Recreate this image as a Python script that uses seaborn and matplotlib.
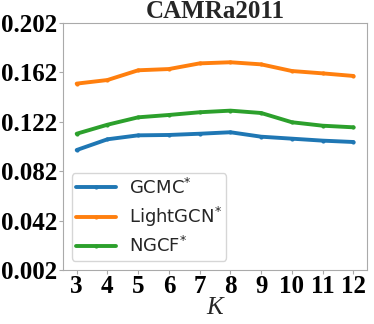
import numpy as np
import pandas as pd
import matplotlib
matplotlib.use("Agg")
import matplotlib.pyplot as plt
import seaborn as sns

k_values = [3, 4, 5, 6, 7, 8, 9, 10, 11, 12]
gcmc = [0.0991, 0.1078, 0.1110, 0.1113, 0.1123, 0.1135, 0.1099, 0.1083, 0.1067, 0.1056]
lightgcn = [0.1529, 0.1558, 0.1637, 0.1647, 0.1693, 0.1702, 0.1685, 0.1631, 0.1612, 0.1591]
ngcf = [0.1123, 0.1196, 0.1256, 0.1275, 0.1297, 0.1310, 0.1291, 0.1216, 0.1188, 0.1175]
y_ticks = [0.002, 0.042, 0.082, 0.122, 0.162, 0.202]

df = pd.DataFrame({
    "K": k_values * 3,
    "value": gcmc + lightgcn + ngcf,
    "model": ["GCMC$^{*}$"] * 10 + ["LightGCN$^{*}$"] * 10 + ["NGCF$^{*}$"] * 10,
})

sns.set_style("ticks")
fig, ax = plt.subplots(figsize=(3.74, 3.24), dpi=100)

sns.lineplot(data=df, x="K", y="value", hue="model", marker=".", markersize=6,
             markeredgewidth=0, linewidth=2.8, palette=["#1f77b4", "#ff7f0e", "#2ca02c"], ax=ax)

ax.set_ylim(0.002, 0.202)
ax.set_yticks(y_ticks)
ax.set_yticklabels([f"{t:.3f}" for t in y_ticks], fontfamily="Liberation Serif",
                   fontweight="bold", fontsize=18)
ax.set_xticks(k_values)
ax.set_xticklabels([str(k) for k in k_values], fontfamily="Liberation Serif",
                   fontweight="bold", fontsize=18)
ax.set_xlabel("K", fontfamily="Liberation Serif", fontstyle="italic", fontsize=18, labelpad=-1)
ax.set_ylabel("")
ax.set_title("CAMRa2011", fontfamily="Liberation Serif", fontweight="bold", fontsize=18, pad=2)

for s in ax.spines.values():
    s.set_color("#aaaaaa")
ax.tick_params(colors="#aaaaaa", labelcolor="black", length=3, pad=1)

leg = ax.legend(loc="lower left", fontsize=13, labelspacing=0.4, borderpad=0.25,
                handlelength=2.2, handletextpad=0.7, frameon=True)
leg.get_frame().set_edgecolor("#cccccc")

plt.subplots_adjust(left=0.168, right=0.982, bottom=0.167, top=0.929)
plt.savefig("out.png", dpi=100)
